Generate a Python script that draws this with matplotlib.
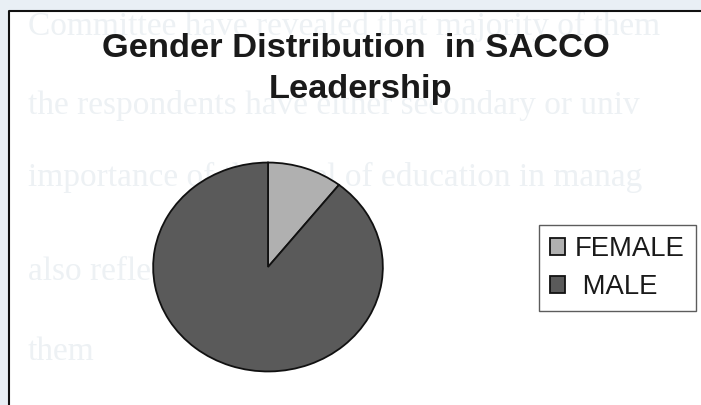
import matplotlib
matplotlib.use("Agg")
import matplotlib.pyplot as plt
from matplotlib.patches import Rectangle
from matplotlib.lines import Line2D

# Data
categories = ["FEMALE", "MALE"]
legend_labels = ["FEMALE", " MALE"]
shares = [10.6, 89.4]
colors = ["#b0b0b0", "#5a5a5a"]
title_lines = ["Gender Distribution  in SACCO", "Leadership"]

# Page text showing through behind the chart
page_lines = [
    "Committee have revealed that majority of them",
    "the respondents have either secondary or univ",
    "importance of the level of education in manag",
    "also reflect",
    "them",
]
page_baselines = [35, 114, 186, 280, 360]

W, H = 701, 405
fig = plt.figure(figsize=(W / 100, H / 100), dpi=100, facecolor="#e9eff5")

def fx(px):
    return px / W

def fy(py):
    return (H - py) / H

# white page inside the frame
fig.patches.append(Rectangle((fx(9), 0), 1 - fx(9), fy(11), transform=fig.transFigure,
                             facecolor="white", edgecolor="none", zorder=0))

for line, yb in zip(page_lines, page_baselines):
    fig.text(fx(28), fy(yb), line, family="Liberation Serif", fontsize=24,
             color="#edf1f4", va="baseline", ha="left", zorder=1)

# chart frame (left and top edges)
fig.lines.append(Line2D([fx(9), fx(9), 1.0], [0, fy(11), fy(11)], transform=fig.transFigure,
                        color="#111111", lw=1.5, zorder=2))

# title
fig.text(fx(356), fy(57), title_lines[0], family="Liberation Sans", fontweight="bold",
         fontsize=24.8, color="#1a1a1a", ha="center", va="baseline", zorder=3)
fig.text(fx(361), fy(98), title_lines[1], family="Liberation Sans", fontweight="bold",
         fontsize=24.8, color="#1a1a1a", ha="center", va="baseline", zorder=3)

# pie (slightly elliptical, as drawn)
cx, cy, rx, ry = 268, 267, 116, 105.5
ax = fig.add_axes([fx(cx - rx), fy(cy + ry), (2 * rx) / W, (2 * ry) / H])
ax.set_zorder(3)
ax.patch.set_alpha(0)
wedges, _ = ax.pie(shares, colors=colors, startangle=90, counterclock=False,
                   wedgeprops=dict(edgecolor="#111111", linewidth=1.3))
ax.set_aspect("auto")
ax.set_xlim(-1.01, 1.01)
ax.set_ylim(-1.01, 1.01)
ax.axis("off")

# legend
leg = fig.legend(wedges, legend_labels, loc="upper left",
                 bbox_to_anchor=(fx(539), fy(225)), bbox_transform=fig.transFigure,
                 prop=dict(family="Liberation Sans", size=19.8),
                 frameon=True, fancybox=False, edgecolor="#333333", facecolor="white",
                 handlelength=0.55, handleheight=0.55, handletextpad=0.35,
                 labelspacing=0.45, borderpad=0.4, borderaxespad=0)
leg.get_frame().set_linewidth(1.0)
for t in leg.get_texts():
    t.set_color("#1a1a1a")

fig.savefig("out.png", dpi=100, facecolor=fig.get_facecolor())
